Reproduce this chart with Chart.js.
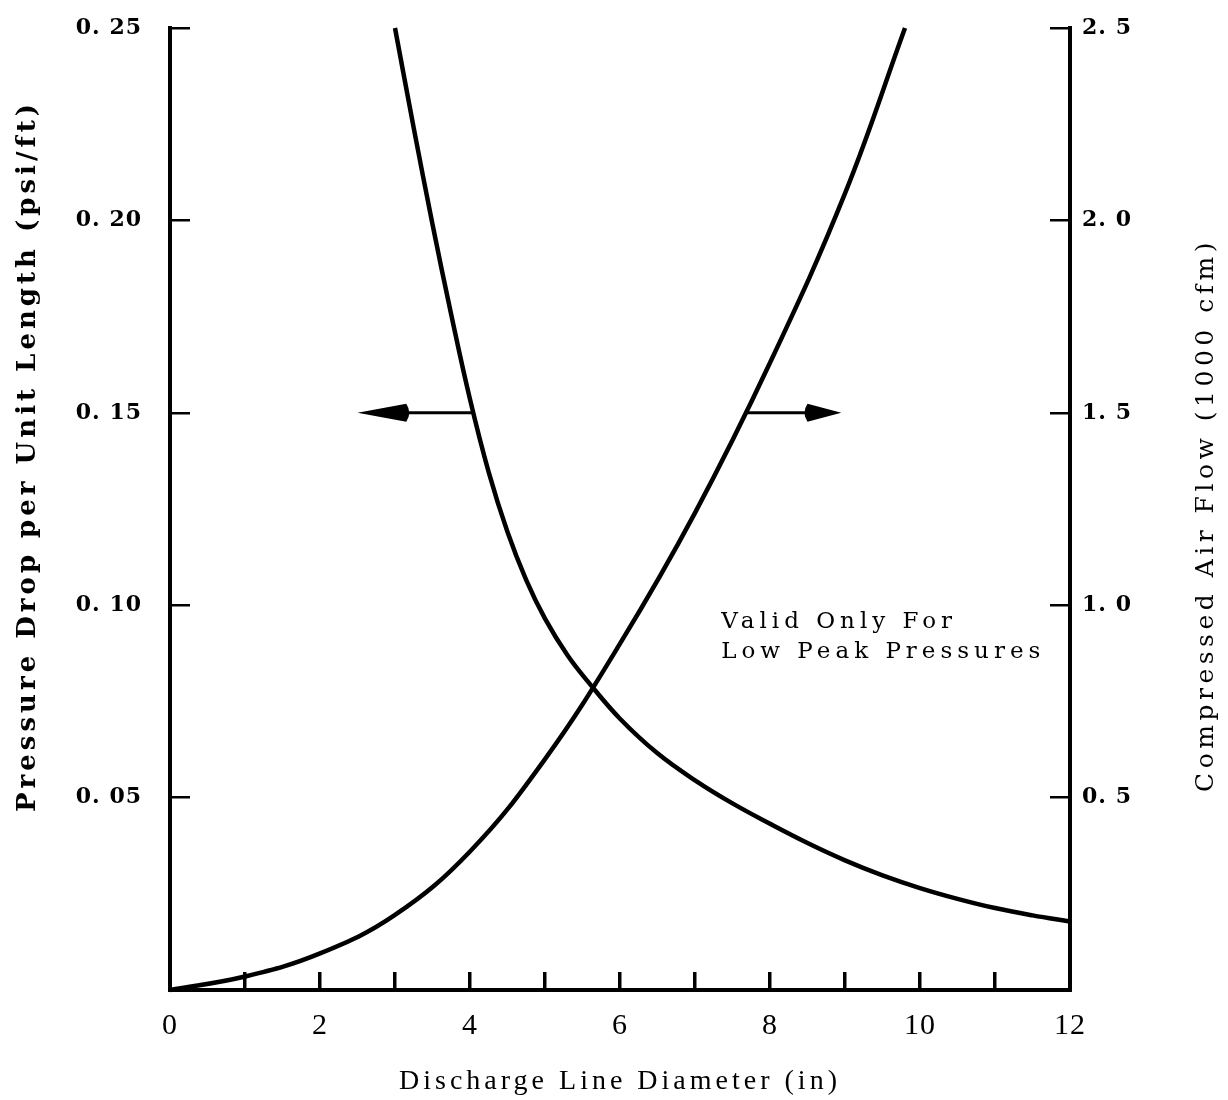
<!DOCTYPE html>
<html>
<head>
<meta charset="utf-8">
<title>Discharge Line Diameter</title>
<script src="https://cdn.jsdelivr.net/npm/chart.js@4.4.1/dist/chart.umd.min.js"></script>
<style>
  html, body { margin: 0; padding: 0; background: #fff; }
  #wrap { width: 1228px; height: 1100px; }
</style>
</head>
<body>
<div id="wrap"><canvas id="chart" width="1228" height="1100"></canvas></div>
<script>
// Pressure drop curve (left axis, psi/ft)
const dropDiameters = [3.0, 3.25, 3.5, 3.75, 4.0, 4.25, 4.5, 4.75, 5.0, 5.3, 5.6, 6.0, 6.5, 7.0, 7.5, 8.0, 8.5, 9.0, 9.5, 10.0, 10.5, 11.0, 11.5, 12.0];
const dropValues    = [0.250, 0.224, 0.199, 0.1755, 0.1535, 0.1345, 0.119, 0.1065, 0.0965, 0.087, 0.0795, 0.0705, 0.0615, 0.0545, 0.0485, 0.0432, 0.0382, 0.0337, 0.0298, 0.0265, 0.0237, 0.0213, 0.0194, 0.0178];

// Compressed air flow curve (right axis, 1000 cfm)
const flowDiameters = [0, 1, 2, 3, 4, 5, 6, 7, 8, 9, 9.8];
const flowValues    = [0, 0.035, 0.095, 0.195, 0.36, 0.60, 0.90, 1.24, 1.63, 2.07, 2.5];

const xTickLabels = ['0', '2', '4', '6', '8', '10', '12'];
const leftTickLabels = ['0. 05', '0. 10', '0. 15', '0. 20', '0. 25'];
const rightTickLabels = ['0. 5', '1. 0', '1. 5', '2. 0', '2. 5'];

const noteLines = ['Valid Only For', 'Low Peak Pressures'];

function toPoints(xs, ys) {
  return xs.map((x, i) => ({ x: x, y: ys[i] }));
}

function drawArrow(ctx, fromX, headX, tipX, y) {
  const dir = tipX > fromX ? 1 : -1;
  ctx.strokeStyle = '#000';
  ctx.fillStyle = '#000';
  ctx.lineWidth = 3;
  ctx.beginPath();
  ctx.moveTo(fromX, y);
  ctx.lineTo(headX, y);
  ctx.stroke();
  ctx.beginPath();
  ctx.moveTo(tipX, y);
  ctx.lineTo(headX, y - 9);
  ctx.quadraticCurveTo(headX - dir * 6, y, headX, y + 9);
  ctx.closePath();
  ctx.fill();
}

const decorations = {
  id: 'decorations',
  beforeDraw(chart) {
    const ctx = chart.ctx;
    ctx.save();
    ctx.fillStyle = '#fff';
    ctx.fillRect(0, 0, chart.width, chart.height);
    ctx.restore();
    ctx.letterSpacing = '1px';
  },
  afterDraw(chart) {
    const ctx = chart.ctx;
    const x = chart.scales.x, yL = chart.scales.yLeft, yR = chart.scales.yRight;
    ctx.save();
    ctx.fillStyle = '#000';

    // left title
    ctx.save();
    ctx.font = 'bold 26px "DejaVu Serif"';
    ctx.letterSpacing = '4px';
    ctx.textAlign = 'center';
    ctx.textBaseline = 'middle';
    ctx.translate(28, 456);
    ctx.rotate(-Math.PI / 2);
    ctx.fillText('Pressure Drop per Unit Length (psi/ft)', 0, 0);
    ctx.restore();

    // right title
    ctx.save();
    ctx.font = '25px "DejaVu Serif"';
    ctx.letterSpacing = '4.5px';
    ctx.textAlign = 'center';
    ctx.textBaseline = 'middle';
    ctx.translate(1206, 515);
    ctx.rotate(-Math.PI / 2);
    ctx.fillText('Compressed Air Flow (1000 cfm)', 0, 0);
    ctx.restore();

    // x title
    ctx.font = '28px "Liberation Serif"';
    ctx.letterSpacing = '4px';
    ctx.textAlign = 'center';
    ctx.textBaseline = 'middle';
    ctx.fillText('Discharge Line Diameter (in)', (chart.chartArea.left + chart.chartArea.right) / 2, 1082);

    // note
    ctx.font = '23px "DejaVu Serif"';
    ctx.letterSpacing = '5px';
    ctx.textAlign = 'left';
    ctx.textBaseline = 'alphabetic';
    ctx.fillText(noteLines[0], x.getPixelForValue(7.35), 628);
    ctx.fillText(noteLines[1], x.getPixelForValue(7.35), 658);

    // arrows pointing to each curve's axis
    const yA = yL.getPixelForValue(0.15);
    drawArrow(ctx, x.getPixelForValue(4.05), x.getPixelForValue(3.15), x.getPixelForValue(2.5), yA);
    const yB = yR.getPixelForValue(1.5);
    drawArrow(ctx, x.getPixelForValue(7.7), x.getPixelForValue(8.5), x.getPixelForValue(8.95), yB);

    ctx.restore();
  }
};

new Chart(document.getElementById('chart'), {
  type: 'scatter',
  data: {
    datasets: [
      {
        label: 'Pressure Drop',
        data: toPoints(dropDiameters, dropValues),
        yAxisID: 'yLeft',
        showLine: true,
        borderColor: '#000',
        borderWidth: 4.5,
        pointRadius: 0,
        tension: 0.4,
        clip: false
      },
      {
        label: 'Air Flow',
        data: toPoints(flowDiameters, flowValues),
        yAxisID: 'yRight',
        showLine: true,
        borderColor: '#000',
        borderWidth: 4.5,
        pointRadius: 0,
        tension: 0.4,
        clip: false
      }
    ]
  },
  options: {
    responsive: false,
    animation: false,
    layout: { padding: { top: 28, left: 0, right: 0, bottom: 0 } },
    plugins: {
      legend: { display: false },
      tooltip: { enabled: false }
    },
    scales: {
      x: {
        type: 'linear',
        position: 'bottom',
        min: 0,
        max: 12,
        afterFit: s => { s.height = 110; s.paddingLeft = 0; s.paddingRight = 0; },
        border: { display: true, color: '#000', width: 4 },
        grid: { drawOnChartArea: false, drawTicks: true, tickLength: -18, color: '#000', lineWidth: 3.5 },
        ticks: {
          stepSize: 1,
          padding: 36,
          color: '#000',
          font: { family: 'Liberation Serif', size: 30 },
          callback: v => (v % 2 === 0 ? xTickLabels[v / 2] : '')
        }
      },
      yLeft: {
        type: 'linear',
        position: 'left',
        min: 0,
        max: 0.25,
        afterFit: s => { s.width = 170; s.paddingTop = 0; s.paddingBottom = 0; },
        border: { display: true, color: '#000', width: 4 },
        grid: { drawOnChartArea: false, drawTicks: true, tickLength: -20, color: '#000', lineWidth: 2.5 },
        ticks: {
          stepSize: 0.05,
          padding: 48,
          color: '#000',
          font: { family: 'DejaVu Serif', size: 22, weight: 'bold' },
          callback: v => {
            const i = Math.round(v / 0.05);
            return i === 0 ? '' : leftTickLabels[i - 1];
          }
        }
      },
      yRight: {
        type: 'linear',
        position: 'right',
        min: 0,
        max: 2.5,
        afterFit: s => { s.width = 158; s.paddingTop = 0; s.paddingBottom = 0; },
        border: { display: true, color: '#000', width: 4 },
        grid: { drawOnChartArea: false, drawTicks: true, tickLength: -20, color: '#000', lineWidth: 2.5 },
        ticks: {
          stepSize: 0.5,
          padding: 32,
          color: '#000',
          font: { family: 'DejaVu Serif', size: 22, weight: 'bold' },
          callback: v => {
            const i = Math.round(v / 0.5);
            return i === 0 ? '' : rightTickLabels[i - 1];
          }
        }
      }
    }
  },
  plugins: [decorations]
});
</script>
</body>
</html>
